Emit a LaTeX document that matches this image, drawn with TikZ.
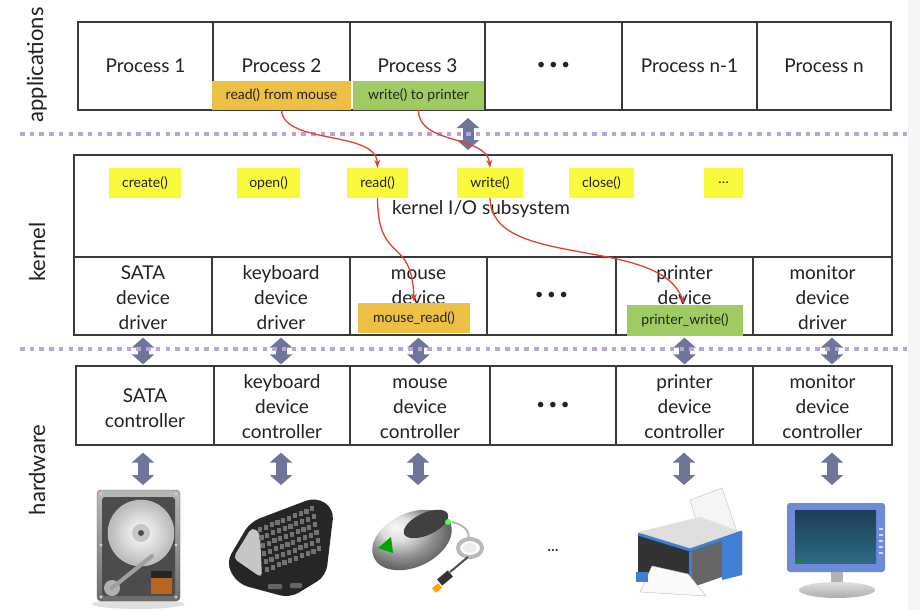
\documentclass[tikz,border=0pt]{standalone}
\usepackage{fontspec}
\setmainfont{Lato}
\usetikzlibrary{arrows.meta}
\definecolor{boxline}{HTML}{3A3A3A}
\definecolor{orng}{HTML}{EDBF45}
\definecolor{grn}{HTML}{9FCC62}
\definecolor{yel}{HTML}{FAFA3C}
\definecolor{purp}{HTML}{B8A6D8}
\definecolor{barr}{HTML}{6F7499}
\definecolor{redc}{HTML}{E2412F}
\definecolor{txt}{HTML}{222222}
\definecolor{monblue}{HTML}{6E8AD8}
\definecolor{scrtop}{HTML}{1B3E55}
\definecolor{scrbot}{HTML}{2F6A85}
\definecolor{hddorange}{HTML}{B8661E}
\definecolor{prblue}{HTML}{3F7FD6}
\newcommand\celldots{{\fontsize{15}{18}\selectfont\textbullet\hspace{3.6pt}\textbullet\hspace{3.6pt}\textbullet}}
\tikzset{
 cell/.style={draw=boxline, line width=1.3pt, inner sep=0pt, align=center,
   font=\fontsize{19}{25}\selectfont, text=txt},
 celltext/.style={inner sep=0pt, align=center, font=\fontsize{19}{25}\selectfont, text=txt},
 tag/.style={inner sep=0pt, font=\fontsize{14}{16}\selectfont, text=txt},
 sepline/.style={purp, line width=4.5pt, dash pattern=on 4.5pt off 5.2pt},
 blockarr/.style={barr, line width=11pt,
   {Triangle[width=22pt,length=10pt]}-{Triangle[width=22pt,length=10pt]}},
 redarr/.style={redc, line width=1.3pt, -{Stealth[length=8pt,width=6pt]}},
 layer/.style={rotate=90, font=\fontsize{22}{25}\selectfont, text=txt, inner sep=0pt},
}
\begin{document}
\begin{tikzpicture}[x=1pt,y=-1pt]
\useasboundingbox (0,0) rectangle (920,610);
\fill[white] (0,0) rectangle (920,610);
\fill[gray!7] (908,0) rectangle (920,610);

% layer labels
\node[layer] (lapp) at (37,65) {applications};
\node[layer] (lker) at (37,252) {kernel};
\node[layer] (lhw) at (37,470) {hardware};

% applications row
\node[cell, minimum width=135pt, minimum height=88pt] (p1) at (145.5,66) {Process 1};
\node[cell, minimum width=137pt, minimum height=88pt] (p2) at (281.5,66) {Process 2};
\node[cell, minimum width=135pt, minimum height=88pt] (p3) at (417.5,66) {Process 3};
\node[cell, minimum width=137pt, minimum height=88pt] (pd) at (553.5,66) {\celldots};
\node[cell, minimum width=135pt, minimum height=88pt] (pn1) at (689.5,66) {Process n-1};
\node[cell, minimum width=134pt, minimum height=88pt] (pn) at (824,66) {Process n};
\node[tag, fill=orng, minimum width=139pt, minimum height=29pt] (rm) at (281.5,95.5) {read() from mouse};
\node[tag, fill=grn, minimum width=131pt, minimum height=29pt] (wp) at (418.5,95.5) {write() to printer};

% kernel
\node[cell, minimum width=818pt, minimum height=102pt] (ktop) at (483,206) {};
\node[celltext] (kio) at (481,209) {kernel I/O subsystem};
\node[tag, fill=yel, minimum width=72pt, minimum height=30pt] (cr) at (145,183) {create()};
\node[tag, fill=yel, minimum width=63pt, minimum height=30pt] (op) at (268.5,183) {open()};
\node[tag, fill=yel, minimum width=61pt, minimum height=30pt] (rd) at (377.5,183) {read()};
\node[tag, fill=yel, minimum width=66pt, minimum height=30pt] (wr) at (490,183) {write()};
\node[tag, fill=yel, minimum width=65pt, minimum height=30pt] (cl) at (601.5,183) {close()};
\node[tag, fill=yel, minimum width=39pt, minimum height=30pt] (yd) at (723.5,183) {…};

\node[cell, minimum width=138pt, minimum height=78pt] (kd1) at (143,296) {};
\node[cell, minimum width=138pt, minimum height=78pt] (kd2) at (281,296) {};
\node[cell, minimum width=137pt, minimum height=78pt] (kd3) at (418.5,296) {};
\node[cell, minimum width=129pt, minimum height=78pt] (kd4) at (551.5,296) {\celldots};
\node[cell, minimum width=137pt, minimum height=78pt] (kd5) at (684.5,296) {};
\node[cell, minimum width=139pt, minimum height=78pt] (kd6) at (822.5,296) {};
\node[celltext] (kd1t) at (143,298) {SATA\\device\\driver};
\node[celltext] (kd2t) at (281,298) {keyboard\\device\\driver};
\node[celltext] (kd3t) at (418.5,287.5) {mouse\\device};
\node[celltext] (kd5t) at (684.5,285.5) {printer\\device};
\node[celltext] (kd6t) at (822.5,298) {monitor\\device\\driver};
\node[tag, fill=orng, minimum width=112pt, minimum height=30pt] (mr) at (414,318) {mouse\_read()};
\node[tag, fill=grn, minimum width=116pt, minimum height=31pt] (pw) at (685,320.5) {printer\_write()};

% hardware
\node[cell, minimum width=138pt, minimum height=79pt] (hc1) at (145,405.5) {};
\node[cell, minimum width=136pt, minimum height=79pt] (hc2) at (282,405.5) {};
\node[cell, minimum width=140pt, minimum height=79pt] (hc3) at (420,405.5) {};
\node[cell, minimum width=126pt, minimum height=79pt] (hc4) at (553,405.5) {\celldots};
\node[cell, minimum width=137pt, minimum height=79pt] (hc5) at (684.5,405.5) {};
\node[cell, minimum width=139pt, minimum height=79pt] (hc6) at (822.5,405.5) {};
\node[celltext] (hc1t) at (145,408.5) {SATA\\controller};
\node[celltext] (hc2t) at (282,407) {keyboard\\device\\controller};
\node[celltext] (hc3t) at (420,409) {mouse\\device\\controller};
\node[celltext] (hc5t) at (684.5,407) {printer\\device\\controller};
\node[celltext] (hc6t) at (822.5,407) {monitor\\device\\controller};

% block arrows kernel <-> hardware
\draw[blockarr] ([yshift=-2pt]kd1.south) -- ([yshift=1pt]kd1.south |- hc1.north);
\draw[blockarr] ([yshift=-2pt]kd2.south) -- ([yshift=1pt]kd2.south |- hc2.north);
\draw[blockarr] ([yshift=-2pt]kd3.south) -- ([yshift=1pt]kd3.south |- hc3.north);
\draw[blockarr] ([yshift=-2pt]kd5.south) -- ([yshift=1pt]kd5.south |- hc5.north);
\draw[blockarr] ([xshift=9.5pt,yshift=-2pt]kd6.south) -- ([xshift=9.5pt,yshift=1pt]kd6.south |- hc6.north);
% block arrows hardware <-> devices
\coordinate (d1) at (143,485); \coordinate (d2) at (281,485); \coordinate (d3) at (418,485);
\coordinate (d5) at (684,485); \coordinate (d6) at (832,485);
\draw[blockarr] (hc1.south -| d1) ++(0,7) -- (d1);
\draw[blockarr] (hc2.south -| d2) ++(0,7) -- (d2);
\draw[blockarr] (hc3.south -| d3) ++(0,7) -- (d3);
\draw[blockarr] (hc5.south -| d5) ++(0,7) -- (d5);
\draw[blockarr] (hc6.south -| d6) ++(0,7) -- (d6);
% app <-> kernel
\coordinate (ua) at (468,118); \coordinate (ub) at (468,150);
\draw[blockarr] (ua) -- (ub);

% separators
\draw[sepline] (20,134) -- (910,134);
\draw[sepline] (20,349) -- (910,349);

% red call arrows
\draw[redarr] (rm.south) .. controls (284,145) and (376,130) .. (rd.north);
\draw[redarr] (wp.south) .. controls (418,145) and (487,135) .. (wr.north);
\draw[redarr] (rd.south) .. controls (378,265) and (412,235) .. ([yshift=1pt]mr.north);
\draw[redarr] (wr.south) .. controls (491,270) and (660,235) .. ([xshift=-1pt,yshift=1pt]pw.north);

% ---- devices ----
% hard drive
\fill[gray!25] (138,604) ellipse (46pt and 5pt);
\shade[top color=gray!55, bottom color=gray!85!black, rounded corners=4pt, draw=gray!70!black] (97,490) rectangle (180,601);
\fill[black!70, rounded corners=3pt] (102,497) rectangle (175,596);
\shade[inner color=white, outer color=gray!55, draw=gray!40] (141,533) circle (33pt);
\fill[gray!45] (141,533) circle (9pt);
\fill[black!70] (141,533) circle (3pt);
\fill[gray!60] (112,588) circle (8pt);
\draw[gray!75, line width=4pt, line cap=round] (112,588) -- (152,556);
\fill[black!85] (151,571) rectangle (172,578);
\fill[hddorange] (151,578) rectangle (172,594);
\foreach \sx/\sy in {101/494,176/494,101/597,176/597,101/545,176/545} \fill[gray!35] (\sx,\sy) circle (1.6pt);
\fill[cyan!60] (108,493) circle (1.5pt);

% keyboard
\fill[black!85, rounded corners=10pt] (226,563) -- (250,522) -- (316,497) -- (334,509) -- (326,576) -- (290,598) -- (238,584) -- cycle;
\fill[gray!45, rounded corners=5pt] (233,558) -- (252,527) -- (260,533) -- (262,578) -- cycle;
\foreach \i in {0,...,9} \foreach \j in {0,...,5}
  \fill[black!55] ({258+5.8*\i+1.4*\j},{527-2.3*\i+8*\j}) rectangle ++(4.2,5);
\fill[black!60, rounded corners=1pt] (268,584) rectangle (282,589);
\fill[black!60, rounded corners=1pt] (290,583) rectangle (302,588);

% mouse
\draw[gray!55, line width=2pt] (452,522) .. controls (468,526) and (470,534) .. (468,540);
\draw[gray!55, line width=4pt] (470,548) ellipse (12pt and 9pt);
\fill[gray!15] (470,548) ellipse (7pt and 5pt);
\draw[black!70, line width=2pt] (468,557) -- (450,572);
\fill[black!80, rotate around={40:(445,578)}] (438,574) rectangle (452,582);
\fill[orange!70!yellow, rotate around={40:(437,588)}] (433,585) rectangle (441,591);
\shade[ball color=gray!35, rotate around={25:(412,540)}] (412,540) ellipse (42pt and 27pt);
\fill[black!75, rotate around={25:(426,524)}] (426,524) ellipse (24pt and 11pt);
\fill[green!65!black] (378,548) -- (391,537) -- (393,553) -- cycle;
\fill[green!70] (448,522) circle (3pt);

% dots
\node[font=\fontsize{14}{16}\selectfont\bfseries, text=txt, inner sep=0pt] (ddots) at (553,551) {…};

% printer
\fill[gray!8, draw=gray!50] (690,500) -- (722,488) -- (737,532) -- (702,540) -- cycle;
\fill[gray!25] (638,532) -- (700,517) -- (742,532) -- (690,550) -- cycle;
\fill[black!80] (638,534) -- (690,550) -- (690,588) -- (638,574) -- cycle;
\fill[black!60] (690,550) -- (742,532) -- (742,570) -- (690,588) -- cycle;
\draw[prblue, line width=3pt, line join=round] (638,534) -- (690,550) -- (742,532);
\draw[prblue, line width=3pt] (690,552) -- (690,588);
\fill[prblue] (722,540) -- (742,532) -- (742,575) -- (722,580) -- cycle;
\fill[gray!4, draw=gray!50] (652,566) -- (688,574) -- (706,596) -- (640,592) -- cycle;
\fill[prblue] (636,572) rectangle (648,582);

% monitor
\fill[monblue, rounded corners=3pt] (787,503) rectangle (885,572);
\shade[top color=scrtop, bottom color=scrbot] (795,510) rectangle (876,563);
\fill[green!60!black] (796,559) rectangle (802,562);
\foreach \k in {0,...,4} \fill[white!85!blue] (879,{528+6*\k}) rectangle ++(4,2);
\fill[gray!60] (831,572) rectangle (843,583);
\shade[top color=gray!25, bottom color=gray!65] (837,590) ellipse (38pt and 8pt);
\end{tikzpicture}
\end{document}
